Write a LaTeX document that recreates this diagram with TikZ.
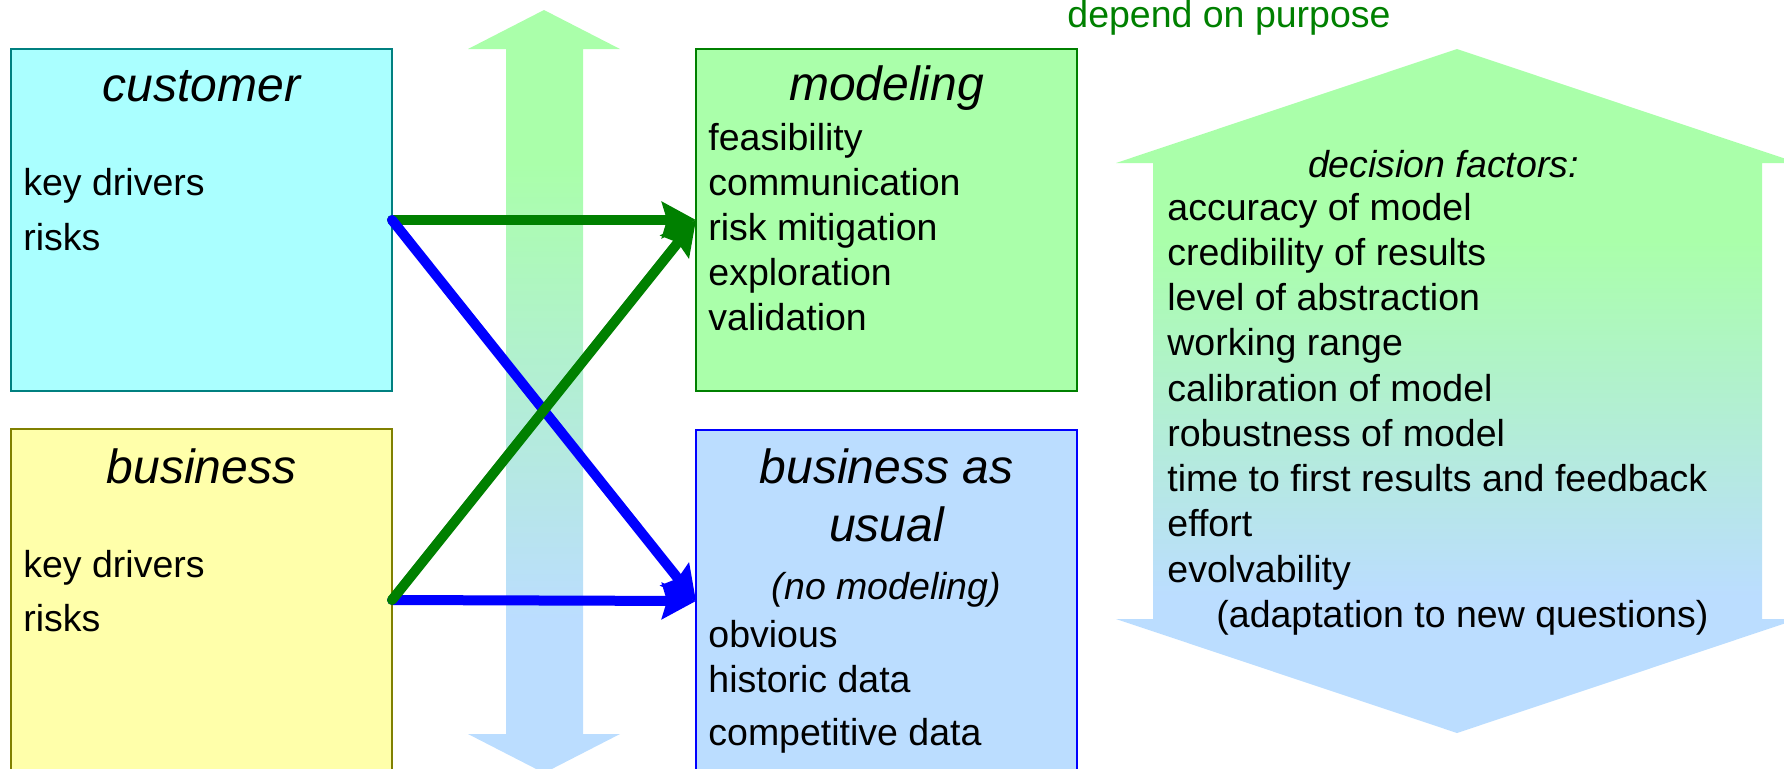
\documentclass[tikz,border=0pt]{standalone}
\usepackage{fontspec}
\setmainfont{Liberation Sans}
\usetikzlibrary{arrows.meta}
\definecolor{cyanfill}{RGB}{170,255,255}
\definecolor{cyanline}{RGB}{0,128,128}
\definecolor{yelfill}{RGB}{255,255,170}
\definecolor{yelline}{RGB}{128,128,0}
\definecolor{grnfill}{RGB}{170,255,170}
\definecolor{grnline}{RGB}{0,128,0}
\definecolor{blufill}{RGB}{187,221,255}
\definecolor{bluline}{RGB}{0,0,255}
\definecolor{darkgrn}{RGB}{0,128,0}
\pgfdeclareverticalshading{vgrad}{100bp}{color(0bp)=(blufill); color(35bp)=(blufill); color(65bp)=(grnfill); color(100bp)=(grnfill)}
\pgfdeclareverticalshading{dgrad}{100bp}{color(0bp)=(blufill); color(35bp)=(blufill); color(61bp)=(grnfill); color(100bp)=(grnfill)}
\begin{document}
\begin{tikzpicture}[x=0.5pt,y=-0.5pt,
  box/.style={draw, line width=0.75pt, inner sep=0pt, outer sep=0pt, minimum width=190.5pt, minimum height=171pt},
  body/.style={font=\fontsize{18.75pt}{22.5pt}\selectfont, inner sep=0pt, anchor=base west},
  itbody/.style={font=\fontsize{18.75pt}{22.5pt}\selectfont\itshape, inner sep=0pt, anchor=base},
  title/.style={font=\fontsize{24pt}{28pt}\selectfont\itshape, inner sep=0pt, anchor=base},
  conn/.style={line width=5pt, line cap=round, -{Stealth[length=17pt,width=18pt,inset=2.5pt]}}]
\useasboundingbox (0,0) rectangle (1784,768);
% vertical double arrow
\shade[shading=vgrad] (544,10) -- (620,49) -- (583,49) -- (583,734) -- (620,734) -- (544,773) -- (468,734) -- (506,734) -- (506,49) -- (468,49) -- cycle;
% decision double arrow
\shade[shading=dgrad] (1457,49) -- (1798,163) -- (1762,163) -- (1762,619) -- (1798,619) -- (1457,733) -- (1116,619) -- (1153,619) -- (1153,163) -- (1116,163) -- cycle;
% boxes
\node[box, fill=cyanfill, draw=cyanline] (cust) at (201.5,220) {};
\node[box, fill=yelfill, draw=yelline] (bus) at (201.5,600) {};
\node[box, fill=grnfill, draw=grnline] (model) at (886.5,220) {};
\node[box, fill=blufill, draw=bluline] (bau) at (886.5,601) {};
% connectors
\draw[conn, darkgrn] (cust.east) -- (model.west);
\draw[conn, bluline] (bus.east) -- (bau.west);
\draw[conn, bluline] (cust.east) -- (bau.west);
\draw[conn, darkgrn] (bus.east) -- (model.west);
% texts
\node[title] (custT) at (201.5,101) {customer};
\node[body] (custK) at (23,195) {key drivers};
\node[body] (custR) at (23,250) {risks};
\node[title] (busT) at (201.5,483) {business};
\node[body] (busK) at (23,577) {key drivers};
\node[body] (busR) at (23,631) {risks};
\node[title] (modT) at (886.5,100) {modeling};
\foreach \t [count=\i from 0] in {feasibility, communication, risk mitigation, exploration, validation}
  \node[body] (mod\i) at (708,{150+45*\i}) {\t};
\node[title] (bauT1) at (886.5,483) {business as};
\node[title] (bauT2) at (886.5,541) {usual};
\node[itbody] (bauN) at (886.5,599) {(no modeling)};
\node[body] (bau1) at (708,647) {obvious};
\node[body] (bau2) at (708,692) {historic data};
\node[body] (bau3) at (708,745) {competitive data};
\node[body, anchor=base, text=darkgrn] (dep) at (1229,27) {depend on purpose};
\node[itbody] (decT) at (1443.5,177) {decision factors:};
\foreach \t [count=\i from 0] in {accuracy of model, credibility of results, level of abstraction, working range, calibration of model, robustness of model, time to first results and feedback, effort, evolvability}
  \node[body] (dec\i) at (1167,{220+45.25*\i}) {\t};
\node[body] (decA) at (1216,627) {(adaptation to new questions)};
\end{tikzpicture}
\end{document}
